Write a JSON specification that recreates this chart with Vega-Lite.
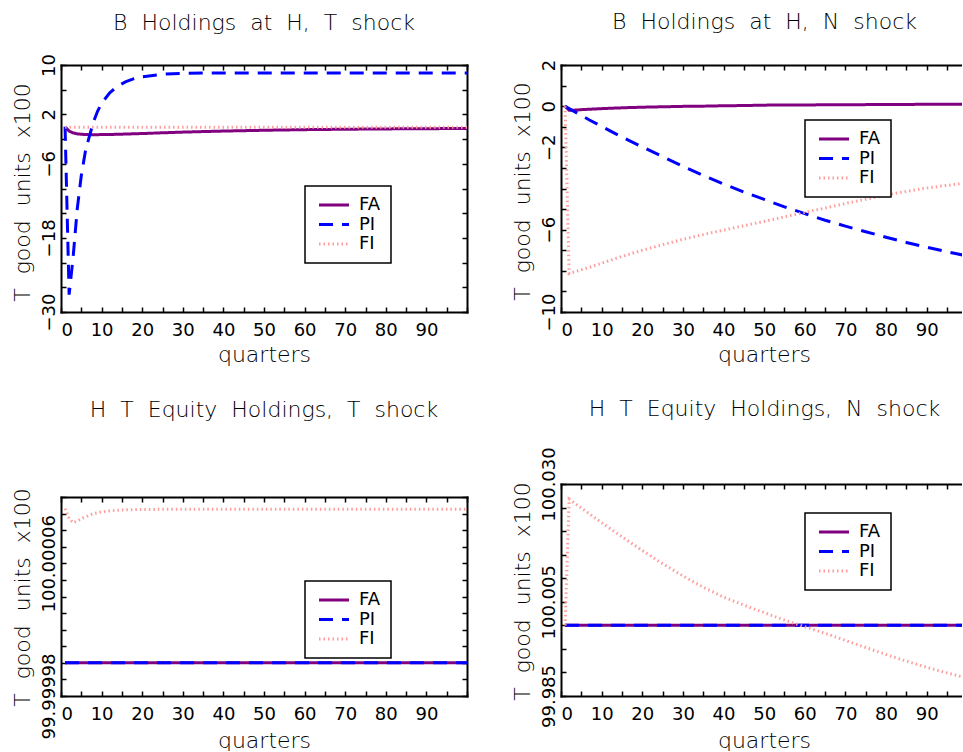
{
  "$schema": "https://vega.github.io/schema/vega-lite/v6.json",
  "background": "white",
  "padding": {"left": 10, "top": 11, "right": 0, "bottom": 0},
  "datasets": {
    "bt": [
      {"q": 1, "FA": 0, "PI": 0, "FI": -0.1},
      {"q": 2, "FA": -0.7, "PI": -27.2, "FI": -0.1},
      {"q": 3, "FA": -1.0, "PI": -21.0, "FI": -0.1},
      {"q": 4, "FA": -1.15, "PI": -13.3, "FI": -0.1},
      {"q": 5, "FA": -1.22, "PI": -7.9, "FI": -0.1},
      {"q": 6, "FA": -1.26, "PI": -4.0, "FI": -0.1},
      {"q": 7, "FA": -1.28, "PI": -1.5, "FI": -0.1},
      {"q": 8, "FA": -1.28, "PI": 0.8, "FI": -0.1},
      {"q": 9, "FA": -1.28, "PI": 2.5, "FI": -0.1},
      {"q": 10, "FA": -1.27, "PI": 3.8, "FI": -0.1},
      {"q": 12, "FA": -1.25, "PI": 5.5, "FI": -0.1},
      {"q": 14, "FA": -1.22, "PI": 6.6, "FI": -0.1},
      {"q": 16, "FA": -1.18, "PI": 7.3, "FI": -0.1},
      {"q": 18, "FA": -1.14, "PI": 7.8, "FI": -0.1},
      {"q": 20, "FA": -1.1, "PI": 8.1, "FI": -0.1},
      {"q": 25, "FA": -0.98, "PI": 8.5, "FI": -0.1},
      {"q": 30, "FA": -0.87, "PI": 8.65, "FI": -0.1},
      {"q": 35, "FA": -0.78, "PI": 8.7, "FI": -0.1},
      {"q": 40, "FA": -0.7, "PI": 8.7, "FI": -0.1},
      {"q": 50, "FA": -0.57, "PI": 8.7, "FI": -0.1},
      {"q": 60, "FA": -0.47, "PI": 8.7, "FI": -0.1},
      {"q": 70, "FA": -0.4, "PI": 8.7, "FI": -0.1},
      {"q": 80, "FA": -0.35, "PI": 8.7, "FI": -0.1},
      {"q": 90, "FA": -0.31, "PI": 8.7, "FI": -0.1},
      {"q": 100, "FA": -0.29, "PI": 8.7, "FI": -0.1}
    ],
    "bn": [
      {"q": 1, "FA": 0, "PI": 0, "FI": 0},
      {"q": 2, "FA": -0.2, "PI": -0.12, "FI": -8.13},
      {"q": 3, "FA": -0.2, "PI": -0.23, "FI": -8.07},
      {"q": 5, "FA": -0.17, "PI": -0.45, "FI": -7.95},
      {"q": 7, "FA": -0.15, "PI": -0.67, "FI": -7.83},
      {"q": 10, "FA": -0.12, "PI": -0.98, "FI": -7.63},
      {"q": 15, "FA": -0.08, "PI": -1.5, "FI": -7.3},
      {"q": 20, "FA": -0.05, "PI": -1.98, "FI": -7.0},
      {"q": 25, "FA": -0.03, "PI": -2.45, "FI": -6.73},
      {"q": 30, "FA": -0.01, "PI": -2.92, "FI": -6.47},
      {"q": 35, "FA": 0.0, "PI": -3.37, "FI": -6.24},
      {"q": 40, "FA": 0.02, "PI": -3.78, "FI": -6.02},
      {"q": 45, "FA": 0.03, "PI": -4.17, "FI": -5.81},
      {"q": 50, "FA": 0.05, "PI": -4.53, "FI": -5.6},
      {"q": 55, "FA": 0.055, "PI": -4.89, "FI": -5.38},
      {"q": 60, "FA": 0.06, "PI": -5.22, "FI": -5.16},
      {"q": 65, "FA": 0.065, "PI": -5.54, "FI": -4.95},
      {"q": 70, "FA": 0.07, "PI": -5.83, "FI": -4.73},
      {"q": 75, "FA": 0.075, "PI": -6.1, "FI": -4.52},
      {"q": 80, "FA": 0.08, "PI": -6.37, "FI": -4.32},
      {"q": 85, "FA": 0.085, "PI": -6.62, "FI": -4.14},
      {"q": 90, "FA": 0.09, "PI": -6.85, "FI": -3.98},
      {"q": 95, "FA": 0.095, "PI": -7.07, "FI": -3.85},
      {"q": 100, "FA": 0.1, "PI": -7.28, "FI": -3.73}
    ],
    "et": [
      {"q": 1, "FA": 100, "PI": 100, "FI": 100.000093},
      {"q": 2, "FA": 100, "PI": 100, "FI": 100.000087},
      {"q": 3, "FA": 100, "PI": 100, "FI": 100.0000845},
      {"q": 4, "FA": 100, "PI": 100, "FI": 100.0000855},
      {"q": 5, "FA": 100, "PI": 100, "FI": 100.000087},
      {"q": 6, "FA": 100, "PI": 100, "FI": 100.000088},
      {"q": 8, "FA": 100, "PI": 100, "FI": 100.00009},
      {"q": 10, "FA": 100, "PI": 100, "FI": 100.000091},
      {"q": 12, "FA": 100, "PI": 100, "FI": 100.0000917},
      {"q": 15, "FA": 100, "PI": 100, "FI": 100.0000922},
      {"q": 20, "FA": 100, "PI": 100, "FI": 100.0000925},
      {"q": 30, "FA": 100, "PI": 100, "FI": 100.0000926},
      {"q": 50, "FA": 100, "PI": 100, "FI": 100.0000926},
      {"q": 75, "FA": 100, "PI": 100, "FI": 100.0000926},
      {"q": 100, "FA": 100, "PI": 100, "FI": 100.0000926}
    ],
    "en": [
      {"q": 1, "FA": 100, "PI": 100, "FI": 100.0},
      {"q": 2, "FA": 100, "PI": 100, "FI": 100.0268},
      {"q": 5, "FA": 100, "PI": 100, "FI": 100.0249},
      {"q": 10, "FA": 100, "PI": 100, "FI": 100.0218},
      {"q": 15, "FA": 100, "PI": 100, "FI": 100.0188},
      {"q": 20, "FA": 100, "PI": 100, "FI": 100.0159},
      {"q": 25, "FA": 100, "PI": 100, "FI": 100.0131},
      {"q": 30, "FA": 100, "PI": 100, "FI": 100.0105},
      {"q": 35, "FA": 100, "PI": 100, "FI": 100.0081},
      {"q": 40, "FA": 100, "PI": 100, "FI": 100.006},
      {"q": 45, "FA": 100, "PI": 100, "FI": 100.0043},
      {"q": 50, "FA": 100, "PI": 100, "FI": 100.0027},
      {"q": 55, "FA": 100, "PI": 100, "FI": 100.0011},
      {"q": 60, "FA": 100, "PI": 100, "FI": 99.9997},
      {"q": 65, "FA": 100, "PI": 100, "FI": 99.9983},
      {"q": 70, "FA": 100, "PI": 100, "FI": 99.9968},
      {"q": 75, "FA": 100, "PI": 100, "FI": 99.9953},
      {"q": 80, "FA": 100, "PI": 100, "FI": 99.9938},
      {"q": 85, "FA": 100, "PI": 100, "FI": 99.9924},
      {"q": 90, "FA": 100, "PI": 100, "FI": 99.9911},
      {"q": 95, "FA": 100, "PI": 100, "FI": 99.9899},
      {"q": 100, "FA": 100, "PI": 100, "FI": 99.9888}
    ]
  },
  "config": {
    "font": "DejaVu Sans",
    "view": {"stroke": null},
    "axis": {
      "grid": false,
      "domainColor": "black",
      "domainWidth": 2,
      "domainCap": "square",
      "tickColor": "black",
      "tickWidth": 1.5,
      "tickSize": -5,
      "labelFont": "DejaVu Sans",
      "labelFontSize": 18,
      "labelFontWeight": "normal",
      "labelColor": "black",
      "labelOverlap": false,
      "labelBound": false,
      "titleFont": "DejaVu Sans",
      "titleFontSize": 22,
      "titleFontWeight": 300,
      "titleColor": "black"
    },
    "title": {
      "font": "DejaVu Sans",
      "fontSize": 22,
      "fontWeight": 300,
      "color": "black",
      "anchor": "middle",
      "frame": "group",
      "baseline": "alphabetic"
    },
    "legend": {
      "orient": "none",
      "title": null,
      "strokeColor": "black",
      "strokeWidth": 1.5,
      "fillColor": "white",
      "padding": 10,
      "symbolType": "M-1,0H5",
      "symbolSize": 100,
      "symbolStrokeWidth": 3,
      "labelFont": "DejaVu Sans",
      "labelFontSize": 18,
      "labelFontWeight": "normal",
      "labelColor": "black",
      "labelOffset": 26,
      "rowPadding": 1.5
    }
  },
  "resolve": {
    "scale": {"color": "independent", "strokeDash": "independent", "strokeWidth": "independent"},
    "legend": {"color": "independent", "strokeDash": "independent"}
  },
  "spacing": 42,
  "hconcat": [
    {
      "spacing": 33,
      "resolve": {
        "scale": {"color": "independent", "strokeDash": "independent", "strokeWidth": "independent"},
        "legend": {"color": "independent", "strokeDash": "independent"}
      },
      "vconcat": [
        {
          "width": 406,
          "height": 247,
          "title": {"text": "B\u00a0\u00a0Holdings\u00a0\u00a0at\u00a0\u00a0H,\u00a0\u00a0T\u00a0\u00a0shock", "offset": 19},
          "data": {"name": "bt"},
          "transform": [{"fold": ["FA", "PI", "FI"], "as": ["series", "value"]}],
          "layer": [
            {
              "mark": {"type": "line", "clip": true},
              "encoding": {
                "x": {"field": "q", "type": "quantitative", "scale": {"domain": [0, 100], "nice": false, "zero": false},
                  "axis": {"orient": "bottom", "values": [0,5,10,15,20,25,30,35,40,45,50,55,60,65,70,75,80,85,90,95,100],
                    "labelExpr": "datum.value % 10 === 0 && datum.value < 100 ? '' + datum.value : ''",
                    "labelFlush": true, "labelBaseline": "alphabetic", "labelPadding": 28,
                    "title": "quarters", "titleBaseline": "alphabetic", "titleAlign": "center", "titleX": 203, "titleY": 49}},
                "y": {"field": "value", "type": "quantitative", "scale": {"domain": [-30, 10], "nice": false, "zero": false},
                  "axis": {"orient": "left", "values": [-30,-26,-22,-18,-14,-10,-6,-2,2,6,10],
                    "labelExpr": "datum.value == 10 ? '10' : datum.value == 2 ? '2' : datum.value == -6 ? '\u22126' : datum.value == -18 ? '\u221218' : datum.value == -30 ? '\u221230' : ''",
                    "labelFlush": false, "labelAngle": 270, "labelAlign": "center", "labelBaseline": "alphabetic", "labelPadding": 12,
                    "title": "T\u00a0\u00a0good\u00a0\u00a0units\u00a0\u00a0x100", "titleAngle": 270, "titleBaseline": "alphabetic", "titleAlign": "center", "titleX": -32, "titleY": 127}},
                "color": {"field": "series", "type": "nominal", "scale": {"domain": ["FA", "PI", "FI"], "range": ["#800080", "#0000ff", "#ff9c9c"]},
                  "legend": {"legendX": 244, "legendY": 121}},
                "strokeDash": {"field": "series", "type": "nominal", "scale": {"domain": ["FA", "PI", "FI"], "range": [[1, 0], [14, 9], [1.5, 3]]},
                  "legend": {"legendX": 244, "legendY": 121}},
                "strokeWidth": {"field": "series", "type": "ordinal", "scale": {"domain": ["FA", "PI", "FI"], "range": [3, 3, 1.6]}, "legend": null}
              }
            },
            {
              "mark": {"type": "line", "opacity": 0, "clip": true},
              "encoding": {
                "x": {"field": "q", "type": "quantitative", "scale": {"domain": [0, 100], "nice": false, "zero": false},
                  "axis": {"orient": "top", "values": [0,5,10,15,20,25,30,35,40,45,50,55,60,65,70,75,80,85,90,95,100], "labels": false, "title": null}},
                "y": {"field": "value", "type": "quantitative", "scale": {"domain": [-30, 10], "nice": false, "zero": false},
                  "axis": {"orient": "right", "values": [-30,-26,-22,-18,-14,-10,-6,-2,2,6,10], "labels": false, "title": null}}
              }
            }
          ],
          "resolve": {"axis": {"x": "independent", "y": "independent"}}
        },
        {
          "width": 406,
          "height": 199,
          "title": {"text": "H\u00a0\u00a0T\u00a0\u00a0Equity\u00a0\u00a0Holdings,\u00a0\u00a0T\u00a0\u00a0shock", "offset": 66},
          "data": {"name": "et"},
          "transform": [{"fold": ["FA", "PI", "FI"], "as": ["series", "value"]}],
          "layer": [
            {
              "mark": {"type": "line", "clip": true},
              "encoding": {
                "x": {"field": "q", "type": "quantitative", "scale": {"domain": [0, 100], "nice": false, "zero": false},
                  "axis": {"orient": "bottom", "values": [0,5,10,15,20,25,30,35,40,45,50,55,60,65,70,75,80,85,90,95,100],
                    "labelExpr": "datum.value % 10 === 0 && datum.value < 100 ? '' + datum.value : ''",
                    "labelFlush": true, "labelBaseline": "alphabetic", "labelPadding": 28,
                    "title": "quarters", "titleBaseline": "alphabetic", "titleAlign": "center", "titleX": 203, "titleY": 51}},
                "y": {"field": "value", "type": "quantitative", "scale": {"domain": [99.99998, 100.0001], "nice": false, "zero": false},
                  "axis": {"orient": "left", "values": [99.99998, 99.99999, 100, 100.00001, 100.00002, 100.00003, 100.00004, 100.00005, 100.00006, 100.00007, 100.00008, 100.00009, 100.0001],
                    "labelExpr": "datum.value == 99.99998 ? '99.99998' : datum.value == 100.00006 ? '100.00006' : ''",
                    "labelFlush": false, "labelAngle": 270, "labelAlign": "center", "labelBaseline": "alphabetic", "labelPadding": 12,
                    "title": "T\u00a0\u00a0good\u00a0\u00a0units\u00a0\u00a0x100", "titleAngle": 270, "titleBaseline": "alphabetic", "titleAlign": "center", "titleX": -32, "titleY": 100}},
                "color": {"field": "series", "type": "nominal", "scale": {"domain": ["FA", "PI", "FI"], "range": ["#800080", "#0000ff", "#ff9c9c"]},
                  "legend": {"legendX": 244, "legendY": 84}},
                "strokeDash": {"field": "series", "type": "nominal", "scale": {"domain": ["FA", "PI", "FI"], "range": [[1, 0], [14, 9], [1.5, 3]]},
                  "legend": {"legendX": 244, "legendY": 84}},
                "strokeWidth": {"field": "series", "type": "ordinal", "scale": {"domain": ["FA", "PI", "FI"], "range": [3, 3, 1.6]}, "legend": null}
              }
            },
            {
              "mark": {"type": "line", "opacity": 0, "clip": true},
              "encoding": {
                "x": {"field": "q", "type": "quantitative", "scale": {"domain": [0, 100], "nice": false, "zero": false},
                  "axis": {"orient": "top", "values": [0,5,10,15,20,25,30,35,40,45,50,55,60,65,70,75,80,85,90,95,100], "labels": false, "title": null}},
                "y": {"field": "value", "type": "quantitative", "scale": {"domain": [99.99998, 100.0001], "nice": false, "zero": false},
                  "axis": {"orient": "right", "values": [99.99998, 99.99999, 100, 100.00001, 100.00002, 100.00003, 100.00004, 100.00005, 100.00006, 100.00007, 100.00008, 100.00009, 100.0001], "labels": false, "title": null}}
              }
            }
          ],
          "resolve": {"axis": {"x": "independent", "y": "independent"}}
        }
      ]
    },
    {
      "spacing": 32,
      "resolve": {
        "scale": {"color": "independent", "strokeDash": "independent", "strokeWidth": "independent"},
        "legend": {"color": "independent", "strokeDash": "independent"}
      },
      "vconcat": [
        {
          "width": 401,
          "height": 247,
          "title": {"text": "B\u00a0\u00a0Holdings\u00a0\u00a0at\u00a0\u00a0H,\u00a0\u00a0N\u00a0\u00a0shock", "offset": 25, "dx": 3},
          "data": {"name": "bn"},
          "transform": [{"fold": ["FA", "PI", "FI"], "as": ["series", "value"]}],
          "layer": [
            {
              "mark": {"type": "line", "clip": true},
              "encoding": {
                "x": {"field": "q", "type": "quantitative", "scale": {"domain": [0, 98.7], "nice": false, "zero": false},
                  "axis": {"orient": "bottom", "values": [0,5,10,15,20,25,30,35,40,45,50,55,60,65,70,75,80,85,90,95],
                    "labelExpr": "datum.value % 10 === 0 ? '' + datum.value : ''",
                    "labelFlush": true, "labelBaseline": "alphabetic", "labelPadding": 28,
                    "title": "quarters", "titleBaseline": "alphabetic", "titleAlign": "center", "titleX": 203, "titleY": 49}},
                "y": {"field": "value", "type": "quantitative", "scale": {"domain": [-10, 2], "nice": false, "zero": false},
                  "axis": {"orient": "left", "values": [-10,-9,-8,-7,-6,-5,-4,-3,-2,-1,0,1,2],
                    "labelExpr": "datum.value == 2 ? '2' : datum.value == 0 ? '0' : datum.value == -2 ? '\u22122' : datum.value == -6 ? '\u22126' : datum.value == -10 ? '\u221210' : ''",
                    "labelFlush": false, "labelAngle": 270, "labelAlign": "center", "labelBaseline": "alphabetic", "labelPadding": 12,
                    "title": "T\u00a0\u00a0good\u00a0\u00a0units\u00a0\u00a0x100", "titleAngle": 270, "titleBaseline": "alphabetic", "titleAlign": "center", "titleX": -32, "titleY": 126}},
                "color": {"field": "series", "type": "nominal", "scale": {"domain": ["FA", "PI", "FI"], "range": ["#800080", "#0000ff", "#ff9c9c"]},
                  "legend": {"legendX": 244, "legendY": 55}},
                "strokeDash": {"field": "series", "type": "nominal", "scale": {"domain": ["FA", "PI", "FI"], "range": [[1, 0], [14, 9], [1.5, 3]]},
                  "legend": {"legendX": 244, "legendY": 55}},
                "strokeWidth": {"field": "series", "type": "ordinal", "scale": {"domain": ["FA", "PI", "FI"], "range": [3, 3, 1.6]}, "legend": null}
              }
            },
            {
              "mark": {"type": "line", "opacity": 0, "clip": true},
              "encoding": {
                "x": {"field": "q", "type": "quantitative", "scale": {"domain": [0, 98.7], "nice": false, "zero": false},
                  "axis": {"orient": "top", "values": [0,5,10,15,20,25,30,35,40,45,50,55,60,65,70,75,80,85,90,95], "labels": false, "title": null}},
                "y": {"field": "value", "type": "quantitative", "scale": {"domain": [-10, 2], "nice": false, "zero": false}, "axis": null}
              }
            }
          ],
          "resolve": {"axis": {"x": "independent", "y": "independent"}}
        },
        {
          "width": 401,
          "height": 212,
          "title": {"text": "H\u00a0\u00a0T\u00a0\u00a0Equity\u00a0\u00a0Holdings,\u00a0\u00a0N\u00a0\u00a0shock", "offset": 26, "dx": 3},
          "data": {"name": "en"},
          "transform": [{"fold": ["FA", "PI", "FI"], "as": ["series", "value"]}],
          "layer": [
            {
              "mark": {"type": "line", "clip": true},
              "encoding": {
                "x": {"field": "q", "type": "quantitative", "scale": {"domain": [0, 98.7], "nice": false, "zero": false},
                  "axis": {"orient": "bottom", "values": [0,5,10,15,20,25,30,35,40,45,50,55,60,65,70,75,80,85,90,95],
                    "labelExpr": "datum.value % 10 === 0 ? '' + datum.value : ''",
                    "labelFlush": true, "labelBaseline": "alphabetic", "labelPadding": 28,
                    "title": "quarters", "titleBaseline": "alphabetic", "titleAlign": "center", "titleX": 203, "titleY": 51}},
                "y": {"field": "value", "type": "quantitative", "scale": {"domain": [99.985, 100.03], "nice": false, "zero": false},
                  "axis": {"orient": "left", "values": [99.985, 99.99, 99.995, 100, 100.005, 100.01, 100.015, 100.02, 100.025, 100.03],
                    "labelExpr": "datum.value == 99.985 ? '99.985' : datum.value == 100.005 ? '100.005' : datum.value == 100.03 ? '100.030' : ''",
                    "labelFlush": false, "labelAngle": 270, "labelAlign": "center", "labelBaseline": "alphabetic", "labelPadding": 12,
                    "title": "T\u00a0\u00a0good\u00a0\u00a0units\u00a0\u00a0x100", "titleAngle": 270, "titleBaseline": "alphabetic", "titleAlign": "center", "titleX": -32, "titleY": 107}},
                "color": {"field": "series", "type": "nominal", "scale": {"domain": ["FA", "PI", "FI"], "range": ["#800080", "#0000ff", "#ff9c9c"]},
                  "legend": {"legendX": 244, "legendY": 29}},
                "strokeDash": {"field": "series", "type": "nominal", "scale": {"domain": ["FA", "PI", "FI"], "range": [[1, 0], [14, 9], [1.5, 3]]},
                  "legend": {"legendX": 244, "legendY": 29}},
                "strokeWidth": {"field": "series", "type": "ordinal", "scale": {"domain": ["FA", "PI", "FI"], "range": [3, 3, 1.6]}, "legend": null}
              }
            },
            {
              "mark": {"type": "line", "opacity": 0, "clip": true},
              "encoding": {
                "x": {"field": "q", "type": "quantitative", "scale": {"domain": [0, 98.7], "nice": false, "zero": false},
                  "axis": {"orient": "top", "values": [0,5,10,15,20,25,30,35,40,45,50,55,60,65,70,75,80,85,90,95], "labels": false, "title": null}},
                "y": {"field": "value", "type": "quantitative", "scale": {"domain": [99.985, 100.03], "nice": false, "zero": false}, "axis": null}
              }
            }
          ],
          "resolve": {"axis": {"x": "independent", "y": "independent"}}
        }
      ]
    }
  ]
}
